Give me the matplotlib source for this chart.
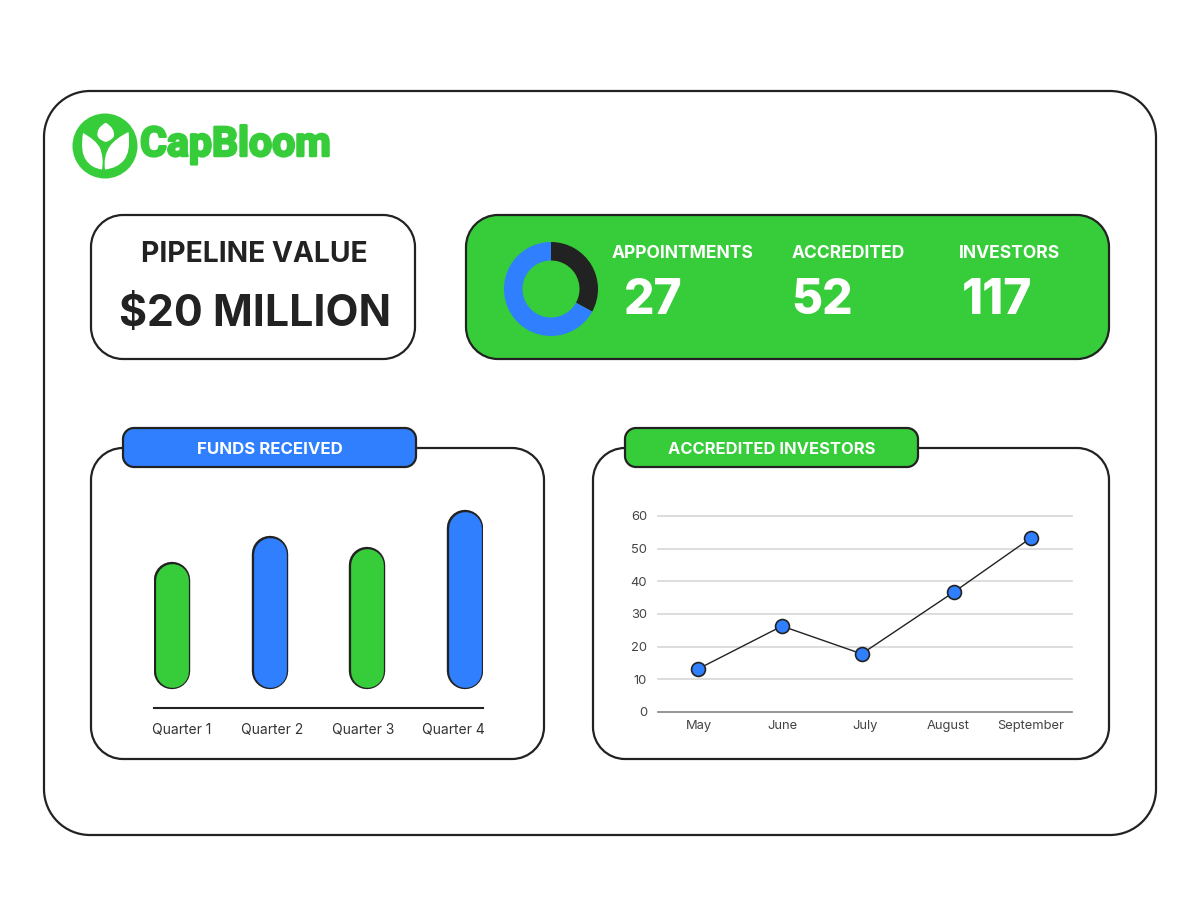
import matplotlib
matplotlib.use("Agg")
import matplotlib.pyplot as plt
from matplotlib.patches import Circle, PathPatch
from matplotlib.path import Path
import matplotlib.patheffects as pe

# ---- data ----
quarters = ["Quarter 1", "Quarter 2", "Quarter 3", "Quarter 4"]
quarter_label_pos = [0.098, 1.022, 1.957, 2.885]
funds = [126, 152, 141, 178]
months = ["May", "June", "July", "August", "September"]
month_marks = [-0.01, 1.0, 1.96, 3.07, 4.0]
investors = [13.2, 26.3, 17.8, 36.7, 53.3]
y_ticks = [0, 10, 20, 30, 40, 50, 60]
kpi_labels = ["APPOINTMENTS", "ACCREDITED", "INVESTORS"]
kpi_values = ["27", "52", "117"]
donut_values = [33, 67]

GREEN = "#37CC3A"
BLUE = "#2F7FFF"
DARK = "#222222"
FONT = "Inter"
W, H = 1200, 900
K = 0.5523

fig = plt.figure(figsize=(12, 9), dpi=100, facecolor="white")
bg = fig.add_axes([0, 0, 1, 1], zorder=0)
bg.set_xlim(0, W); bg.set_ylim(H, 0); bg.axis("off")


def box(x0, y0, x1, y1, r, fc="white", z=1):
    c = r * (1 - K)
    verts = [(x0 + r, y0), (x1 - r, y0),
             (x1 - c, y0), (x1, y0 + c), (x1, y0 + r), (x1, y1 - r),
             (x1, y1 - c), (x1 - c, y1), (x1 - r, y1), (x0 + r, y1),
             (x0 + c, y1), (x0, y1 - c), (x0, y1 - r), (x0, y0 + r),
             (x0, y0 + c), (x0 + c, y0), (x0 + r, y0), (x0 + r, y0)]
    L, C = Path.LINETO, Path.CURVE4
    codes = [Path.MOVETO, L, C, C, C, L, C, C, C, L, C, C, C, L, C, C, C, Path.CLOSEPOLY]
    bg.add_patch(PathPatch(Path(verts, codes), fc=fc, ec=DARK, lw=1.6, zorder=z))


def px_axes(x0, y0, x1, y1, **kw):
    return fig.add_axes([x0 / W, 1 - y1 / H, (x1 - x0) / W, (y1 - y0) / H], **kw)


box(44, 91, 1156, 835, 46)
box(91, 215, 415, 359, 32)
box(466, 215, 1109, 359, 32, fc=GREEN)
box(91, 448, 544, 759, 32)
box(593, 448, 1109, 759, 32)
box(123, 428, 416, 467, 11, fc=BLUE, z=2)
box(625, 428, 918, 467, 11, fc=GREEN, z=2)

# logo
bg.add_patch(Circle((105, 146), 32.5, fc=GREEN, ec="none", zorder=2))
leaves = [
    [(105.7, 122.7), (96, 128), (97.5, 136), (99, 140), (105.7, 142), (112.5, 140), (114, 136), (115, 128), (105.7, 122.7)],
    [(83, 133), (80, 152), (86, 160), (91, 168), (102, 169.5), (104, 158), (100, 148), (96, 140), (83, 133)],
    [(128.5, 132), (131, 152), (124, 160), (118, 168), (105, 169.5), (103, 156), (110, 146), (116, 138), (128.5, 132)],
]
for pts in leaves:
    codes = [Path.MOVETO] + [Path.CURVE3, Path.CURVE3] * ((len(pts) - 1) // 2)
    bg.add_patch(PathPatch(Path(pts, codes), fc="white", ec="none", zorder=3))
bg.text(235.5, 145, "CapBloom", color=GREEN, fontsize=29.5, family="Roboto",
        weight="bold", ha="center", va="center", zorder=3,
        path_effects=[pe.withStroke(linewidth=1.8, foreground=GREEN)])

# headline
bg.text(254, 254, "PIPELINE VALUE", color=DARK, fontsize=20.3, family=FONT, weight="bold",
        ha="center", va="center", zorder=3)
bg.text(255, 314, "$20 MILLION", color=DARK, fontsize=30.8, family=FONT, weight="bold",
        ha="center", va="center", zorder=3)

# KPIs
for x, t, in zip([683, 848, 1010], kpi_labels):
    bg.text(x, 254, t, color="white", fontsize=12.6, family=FONT, weight="bold",
            ha="center", va="center", zorder=3)
for x, t in zip([653, 822, 997], kpi_values):
    bg.text(x, 301, t, color="white", fontsize=34.5, family=FONT, weight="heavy",
            ha="center", va="center", zorder=3)

# tab titles
bg.text(270, 449, "FUNDS RECEIVED", color="white", fontsize=12.1, family=FONT, weight="bold",
        ha="center", va="center", zorder=3)
bg.text(772, 449, "ACCREDITED INVESTORS", color="white", fontsize=11.9, family=FONT, weight="bold",
        ha="center", va="center", zorder=3)

# donut
dax = px_axes(501, 239, 601, 339, zorder=2)
dax.pie(donut_values, colors=[DARK, BLUE], startangle=90, counterclock=False, radius=0.94,
        wedgeprops=dict(width=0.37, linewidth=0))
dax.set_xlim(-1, 1); dax.set_ylim(-1, 1)

# bar chart
bax = px_axes(154, 500, 483, 708, zorder=2)
bax.patch.set_alpha(0)
cap_r = 17.5
for i, (v, c) in enumerate(zip(funds, [GREEN, BLUE, GREEN, BLUE])):
    bax.plot([i, i], [cap_r, v - cap_r], color=c, lw=23.6, solid_capstyle="round",
             path_effects=[pe.Stroke(linewidth=26.2, foreground=DARK), pe.Normal()])
bax.set_xlim(-0.19, 3.19)
bax.set_ylim(-20, 188)
for s in ("top", "left", "right"):
    bax.spines[s].set_visible(False)
bax.spines["bottom"].set_color(DARK)
bax.spines["bottom"].set_linewidth(1.5)
bax.set_yticks([])
bax.set_xticks(quarter_label_pos, quarters)
bax.tick_params(axis="x", length=0, pad=10.5, labelsize=10, labelcolor="#333333")
for t in bax.get_xticklabels():
    t.set_family(FONT)

# line chart
lax = px_axes(658, 516, 1072, 712, zorder=2)
lax.patch.set_alpha(0)
lax.plot(month_marks, investors, color=DARK, lw=1.0, marker="o", ms=10,
         mfc=BLUE, mec=DARK, mew=1.2, zorder=3, clip_on=False)
lax.set_xlim(-0.494, 4.494)
lax.set_ylim(0, 60)
lax.set_yticks(y_ticks)
lax.set_xticks(range(len(months)), months)
lax.grid(axis="y", color="#dadada", lw=1.3)
for g in lax.get_ygridlines():
    g.set_clip_on(False)
lax.set_axisbelow(True)
for s in ("top", "left", "right"):
    lax.spines[s].set_visible(False)
lax.spines["bottom"].set_color("#8a8a8a")
lax.spines["bottom"].set_linewidth(1.2)
lax.tick_params(axis="both", length=0, labelsize=9.3, labelcolor="#444444")
lax.tick_params(axis="x", pad=5.5)
lax.tick_params(axis="y", pad=8)
for t in lax.get_xticklabels() + lax.get_yticklabels():
    t.set_family(FONT)

fig.savefig("out.png", dpi=100, facecolor="white")
